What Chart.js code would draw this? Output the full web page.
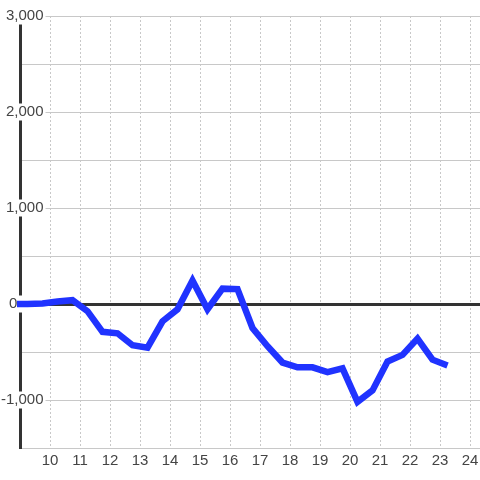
<!DOCTYPE html>
<html>
<head>
<meta charset="utf-8">
<script src="https://cdn.jsdelivr.net/npm/chart.js@4.4.0/dist/chart.umd.min.js"></script>
<style>
  html, body { margin: 0; padding: 0; background: #ffffff; }
  #wrap { width: 480px; height: 480px; }
</style>
</head>
<body>
<div id="wrap"><canvas id="chart_1"></canvas></div>
<script>
// hour of day (x) and value (y)
const hours = [8.75, 9.25, 9.75, 10.25, 10.75, 11.25, 11.75, 12.25, 12.75, 13.25,
  13.75, 14.25, 14.75, 15.25, 15.75, 16.25, 16.75, 17.25, 17.75, 18.25,
  18.75, 19.25, 19.75, 20.25, 20.75, 21.25, 21.75, 22.25, 22.75, 23.25];
const values = [0, 0, 5, 25, 40, -75, -290, -305, -430, -455,
  -180, -55, 245, -55, 160, 155, -250, -440, -610, -660,
  -660, -710, -670, -1020, -900, -600, -530, -360, -580, -640];
const xTicks = [10, 11, 12, 13, 14, 15, 16, 17, 18, 19, 20, 21, 22, 23, 24];

const tickFont = { family: "'Liberation Sans', Arial, sans-serif", size: 15, lineHeight: 1 };

const ctx = document.getElementById("chart_1").getContext("2d");

window.myChart = new Chart(ctx, {
  type: "line",
  data: {
    datasets: [
      {
        data: hours.map((h, i) => ({ x: h, y: values[i] })),
        borderColor: "#2033ff",
        backgroundColor: "#2033ff",
        borderWidth: 6.5,
        pointRadius: 0,
        tension: 0,
        clip: { left: 3, right: 3, top: 3, bottom: 3 },
      },
    ],
  },
  options: {
    responsive: true,
    maintainAspectRatio: false,
    animation: false,
    layout: {
      padding: { top: 16, left: 0, right: 0, bottom: 0 },
    },
    scales: {
      x: {
        type: "linear",
        min: 9,
        max: 24.333,
        afterBuildTicks: (scale) => {
          scale.ticks = xTicks.map((v) => ({ value: v }));
        },
        afterFit: (scale) => {
          scale.height = 32;
          scale.paddingLeft = 0;
          scale.paddingRight = 0;
        },
        border: { display: false, dash: [2, 2] },
        grid: {
          color: "#c8c8c8",
          lineWidth: 1,
          drawTicks: false,
        },
        ticks: {
          autoSkip: false,
          maxRotation: 0,
          padding: 5,
          color: "#444444",
          font: tickFont,
        },
      },
      y: {
        min: -1500,
        max: 3000,
        afterFit: (scale) => {
          scale.width = 20;
        },
        border: { display: true, color: "#333333", width: 3 },
        grid: {
          drawTicks: false,
          color: (c) => (c.tick && c.tick.value === 0 ? "#333333" : "#c8c8c8"),
          lineWidth: (c) => (c.tick && c.tick.value === 0 ? 3 : 1),
        },
        ticks: {
          stepSize: 500,
          mirror: true,
          crossAlign: "far",
          padding: -19,
          color: "#444444",
          font: tickFont,
          showLabelBackdrop: (c) => c.tick.value % 1000 === 0,
          backdropColor: "#ffffff",
          backdropPadding: { x: 2, y: 1 },
          callback: function (value) {
            if (value === 0) return "0      \u200A";
            return value % 1000 === 0 ? value.toLocaleString("en-US") : "";
          },
        },
      },
    },
    plugins: {
      legend: { display: false },
      tooltip: { enabled: false },
    },
  },
});
</script>
</body>
</html>
